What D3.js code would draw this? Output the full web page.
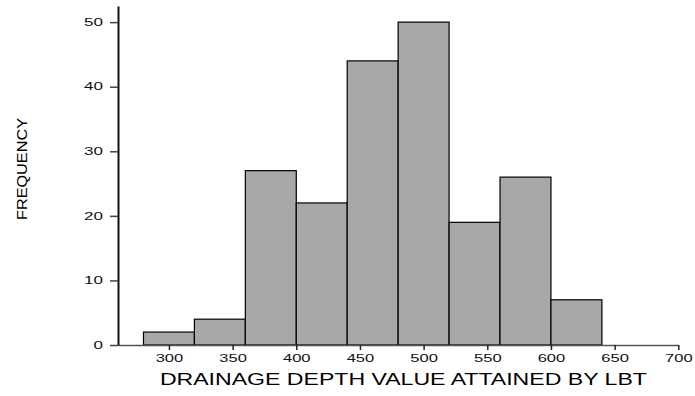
<!DOCTYPE html>
<html>
<head>
<meta charset="utf-8">
<script src="https://cdn.jsdelivr.net/npm/d3@7"></script>
<style>
  body { margin: 0; background: #fff; }
  svg { display: block; font-family: "Liberation Sans", Arial, sans-serif; }
</style>
</head>
<body>
<svg width="695" height="396"></svg>
<script>
// histogram bins (edges) and counts
const binEdges = [280, 320, 360, 400, 440, 480, 520, 560, 600, 640];
const counts = [2, 4, 27, 22, 44, 50, 19, 26, 7];
const xTicks = [300, 350, 400, 450, 500, 550, 600, 650, 700];
const yTicks = [0, 10, 20, 30, 40, 50];

const data = counts.map((c, i) => ({ x0: binEdges[i], x1: binEdges[i + 1], n: c }));

const svg = d3.select("svg");

const x = d3.scaleLinear().domain([260, 700]).range([118, 678.3]);
const y = d3.scaleLinear().domain([0, 52.5]).range([345, 6]);

// stretch text horizontally like the original export
function stretch(sel, k) {
  sel.each(function () {
    const w = this.getComputedTextLength();
    d3.select(this).attr("textLength", w * k).attr("lengthAdjust", "spacingAndGlyphs");
  });
}

// bars
svg.append("g")
  .selectAll("rect")
  .data(data)
  .join("rect")
  .attr("x", d => x(d.x0))
  .attr("y", d => y(d.n))
  .attr("width", d => x(d.x1) - x(d.x0))
  .attr("height", d => y(0) - y(d.n))
  .attr("fill", "#a8a8a8")
  .attr("stroke", "#000")
  .attr("stroke-width", 1.2);

// x axis
const gx = svg.append("g")
  .attr("transform", `translate(0,${y(0)})`)
  .call(d3.axisBottom(x).tickValues(xTicks).tickSize(5).tickSizeOuter(0).tickPadding(5));
gx.select(".domain").attr("stroke", "#555").attr("stroke-width", 1.5);
gx.selectAll(".tick line").attr("stroke", "#222").attr("stroke-width", 1.5);
gx.selectAll(".tick text")
  .attr("font-size", 10)
  .attr("fill", "#111")
  .call(stretch, 1.65);

// y axis
const gy = svg.append("g")
  .attr("transform", `translate(${x(260)},0)`)
  .call(d3.axisLeft(y).tickValues(yTicks).tickSize(8).tickSizeOuter(0).tickPadding(7));
gy.select(".domain").attr("stroke", "#111").attr("stroke-width", 2);
gy.selectAll(".tick line").attr("stroke", "#444").attr("stroke-width", 1.5);
gy.selectAll(".tick text")
  .attr("font-size", 10)
  .attr("fill", "#111")
  .call(stretch, 1.7);

// axis titles
svg.append("text")
  .attr("x", 403.4)
  .attr("y", 385)
  .attr("text-anchor", "middle")
  .attr("font-size", 16)
  .attr("fill", "#000")
  .attr("textLength", 487)
  .attr("lengthAdjust", "spacingAndGlyphs")
  .text("DRAINAGE DEPTH VALUE ATTAINED BY LBT");

svg.append("text")
  .attr("transform", "translate(26.5,169) rotate(-90)")
  .attr("text-anchor", "middle")
  .attr("font-size", 15)
  .attr("fill", "#000")
  .attr("textLength", 102)
  .attr("lengthAdjust", "spacingAndGlyphs")
  .text("FREQUENCY");
</script>
</body>
</html>
